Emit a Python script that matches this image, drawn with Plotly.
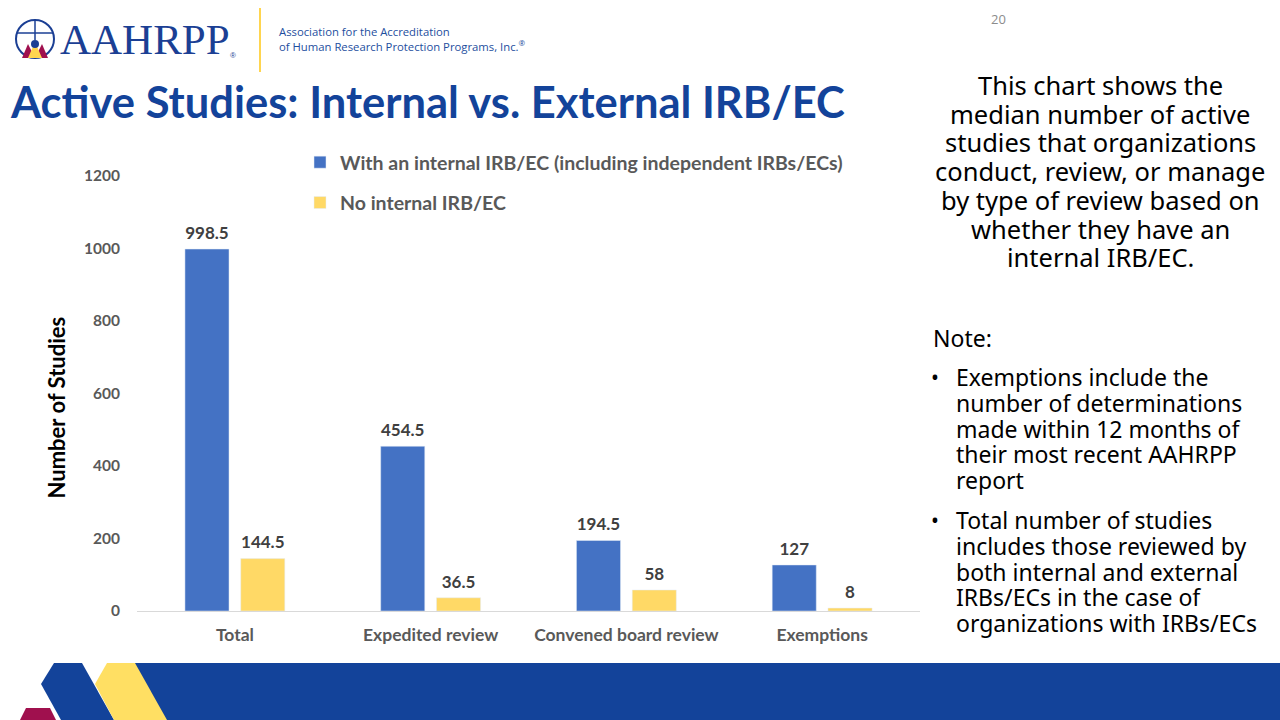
import plotly.graph_objects as go

categories = ["Total", "Expedited review", "Convened board review", "Exemptions"]
internal_vals = [998.5, 454.5, 194.5, 127]
no_internal_vals = [144.5, 36.5, 58, 8]
internal_labels = ["998.5", "454.5", "194.5", "127"]
no_internal_labels = ["144.5", "36.5", "58", "8"]
series_names = ["With an internal IRB/EC (including independent IRBs/ECs)", "No internal IRB/EC"]
y_ticks = [0, 200, 400, 600, 800, 1000, 1200]

W, H = 1280, 720
def px(x):
    return x / W
def py(y):
    return 1 - y / H

BLUE = "#4472C4"
YELLOW = "#FFD966"
DARKBLUE = "#13439A"
CF = "Lato"
GAP = 0.43

fig = go.Figure()
fig.add_trace(go.Bar(
    x=categories, y=internal_vals, name=series_names[0], marker_color=BLUE,
    legendgroup="a",
))
fig.add_trace(go.Bar(
    x=categories, y=no_internal_vals, name=series_names[1], marker_color=YELLOW,
    legendgroup="b",
))
# value labels, grouped the same way as the bars
for vals, labels in [(internal_vals, internal_labels), (no_internal_vals, no_internal_labels)]:
    fig.add_trace(go.Scatter(
        x=categories, y=vals, text=labels, mode="markers+text", textposition="top center",
        marker=dict(size=8, opacity=0), showlegend=False, hoverinfo="skip", cliponaxis=False,
        textfont=dict(family=CF, size=17, color="#404040", weight="bold"),
    ))

fig.update_layout(
    width=W, height=H,
    margin=dict(l=0, r=0, t=0, b=0, autoexpand=False),
    paper_bgcolor="white", plot_bgcolor="white",
    barmode="group", bargap=GAP, bargroupgap=0.21,
    scattermode="group", scattergap=GAP,
    showlegend=True,
    legend=dict(x=px(300), y=py(143), xanchor="left", yanchor="top",
                font=dict(family=CF, size=19.5, color="#595959", weight="bold"),
                bgcolor="rgba(0,0,0,0)", tracegroupgap=12, traceorder="grouped",
                itemwidth=30),
    xaxis=dict(domain=[px(137), px(920)], showline=True, linecolor="#D9D9D9", linewidth=1,
               showgrid=False, ticks="", tickfont=dict(family=CF, size=17.5, color="#595959", weight="bold"),
               ticklabelstandoff=8, fixedrange=True, automargin=False),
    yaxis=dict(domain=[py(611), py(176)], range=[0, 1200], tickvals=y_ticks, showgrid=False,
               zeroline=False, showline=False, ticks="",
               tickfont=dict(family=CF, size=15.5, color="#595959", weight="bold"),
               ticklabelstandoff=16, fixedrange=True, automargin=False),
    font=dict(family=CF),
)

annotations = []
# y axis title
annotations.append(dict(text="Number of Studies", x=px(40), y=py(408), xref="paper", yref="paper",
                        textangle=-90, showarrow=False,
                        font=dict(family=CF, size=22, color="black", weight="bold")))
# main title
annotations.append(dict(text="Active Studies: Internal vs. External IRB/EC", x=px(8), y=py(101),
                        xref="paper", yref="paper", xanchor="left", yanchor="middle", showarrow=False,
                        font=dict(family="Lato", size=43.5, color=DARKBLUE, weight="bold")))
# logo text
annotations.append(dict(text="AAHRPP", x=px(58), y=py(39), xref="paper", yref="paper",
                        xanchor="left", yanchor="middle", showarrow=False,
                        font=dict(family="Liberation Serif", size=43, color="#1B3F94")))
annotations.append(dict(text="®", x=px(228), y=py(56), xref="paper", yref="paper",
                        xanchor="left", yanchor="middle", showarrow=False,
                        font=dict(family="Liberation Sans", size=8, color="#1B3F94")))
annotations.append(dict(text="Association for the Accreditation<br>of Human Research Protection Programs, Inc.<sup>®</sup>",
                        x=px(277), y=py(39), xref="paper", yref="paper", xanchor="left", yanchor="middle",
                        align="left", showarrow=False,
                        font=dict(family="Open Sans", size=11.3, color="#1D4E9E")))
# page number
annotations.append(dict(text="20", x=px(998), y=py(19), xref="paper", yref="paper", showarrow=False,
                        xanchor="center", yanchor="middle",
                        font=dict(family="Open Sans", size=13, color="#8C8C8C")))
# right description
desc = ["This chart shows the", "median number of active", "studies that organizations",
        "conduct, review, or manage", "by type of review based on", "whether they have an",
        "internal IRB/EC."]
for i, line in enumerate(desc):
    annotations.append(dict(text=line, x=px(1100), y=py(85 + i * 28.7), xref="paper", yref="paper",
                            showarrow=False, xanchor="center", yanchor="middle",
                            font=dict(family="Noto Sans", size=25.5, color="black")))
annotations.append(dict(text="Note:", x=px(931), y=py(338), xref="paper", yref="paper",
                        showarrow=False, xanchor="left", yanchor="middle",
                        font=dict(family="Noto Sans", size=23, color="black")))
notes = [["Exemptions include the", "number of determinations", "made within 12 months of",
          "their most recent AAHRPP", "report"],
         ["Total number of studies", "includes those reviewed by", "both internal and external",
          "IRBs/ECs in the case of", "organizations with IRBs/ECs"]]
starts = [377, 520]
for b, lines in enumerate(notes):
    annotations.append(dict(text="•", x=px(935), y=py(starts[b]), xref="paper", yref="paper",
                            showarrow=False, xanchor="center", yanchor="middle",
                            font=dict(family="Noto Sans", size=21, color="black")))
    for i, line in enumerate(lines):
        annotations.append(dict(text=line, x=px(954), y=py(starts[b] + i * 25.8), xref="paper", yref="paper",
                                showarrow=False, xanchor="left", yanchor="middle",
                                font=dict(family="Noto Sans", size=23, color="black")))
fig.update_layout(annotations=annotations)

def poly(points, color):
    d = "M " + " L ".join(f"{px(x)},{py(y)}" for x, y in points) + " Z"
    return dict(type="path", path=d, xref="paper", yref="paper", fillcolor=color,
                line=dict(width=0), layer="above")

shapes = []
# logo separator
shapes.append(dict(type="line", x0=px(260), x1=px(260), y0=py(8), y1=py(72), xref="paper", yref="paper",
                   line=dict(color="#FFD54F", width=2)))
# globe icon
shapes.append(dict(type="circle", x0=px(16), x1=px(54), y0=py(58), y1=py(20), xref="paper", yref="paper",
                   line=dict(color="#1B3F94", width=2)))
shapes.append(dict(type="line", x0=px(35), x1=px(35), y0=py(20), y1=py(40), xref="paper", yref="paper",
                   line=dict(color="#1B3F94", width=1.5)))
shapes.append(dict(type="line", x0=px(17), x1=px(53), y0=py(33), y1=py(33), xref="paper", yref="paper",
                   line=dict(color="#1B3F94", width=1.5)))
shapes.append(poly([(22, 58), (28, 44), (35, 58)], "#A0104E"))
shapes.append(poly([(35, 58), (42, 44), (48, 58)], "#A0104E"))
shapes.append(poly([(28, 58), (35, 42), (42, 58)], "#FFD54F"))
shapes.append(dict(type="circle", x0=px(31), x1=px(39), y0=py(48), y1=py(40), xref="paper", yref="paper",
                   fillcolor="#1B3F94", line=dict(width=0)))
# bottom band
shapes.append(poly([(120, 663), (1280, 663), (1280, 720), (120, 720)], DARKBLUE))
shapes.append(poly([(26, 708), (50, 708), (56, 720), (20, 720)], "#A0104E"))
shapes.append(poly([(54, 663), (82, 663), (114, 720), (61, 720), (41, 684)], DARKBLUE))
shapes.append(poly([(107, 663), (135, 663), (167, 720), (114, 720), (95, 684)], "#FFDF63"))
fig.update_layout(shapes=shapes)

fig.write_html("out.html")
